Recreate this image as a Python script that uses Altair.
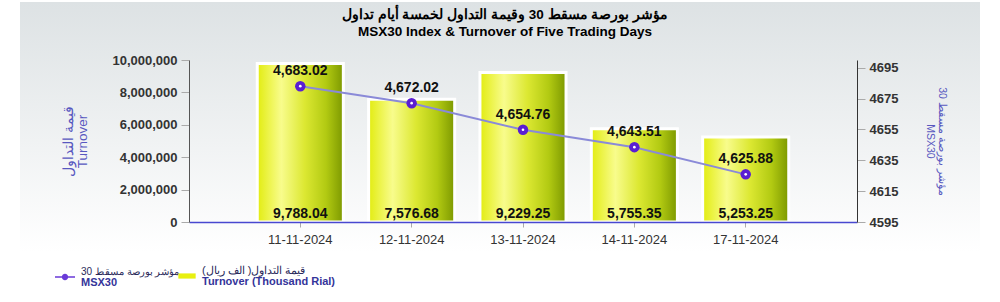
import altair as alt
import pandas as pd

# ---- data ----
dates = ["11-11-2024", "12-11-2024", "13-11-2024", "14-11-2024", "17-11-2024"]
turnover_k = [9788.04, 7576.68, 9229.25, 5755.35, 5253.25]  # thousand rial
msx30 = [4683.02, 4672.02, 4654.76, 4643.51, 4625.88]

left_ticks = [0, 2000000, 4000000, 6000000, 8000000, 10000000]
right_ticks = [4595, 4615, 4635, 4655, 4675, 4695]

title_ar = "مؤشر بورصة مسقط 30 وقيمة التداول لخمسة أيام تداول"
title_en = "MSX30 Index & Turnover of Five Trading Days"
left_title = ["قيمة التداول", "Turnover"]
right_title = ["مؤشر بورصة مسقط 30", "MSX30"]
leg_line_ar = "مؤشر بورصة مسقط 30"
leg_line_en = "MSX30"
leg_bar_ar = "قيمة التداول( الف ريال)"
leg_bar_en = "Turnover (Thousand Rial)"

df = pd.DataFrame({"date": dates, "turnover_k": turnover_k, "msx": msx30})

FONT = "Liberation Sans"

x_enc = alt.X(
    "date:N",
    sort=dates,
    scale=alt.Scale(paddingInner=0.227, paddingOuter=0.613),
    axis=alt.Axis(
        title=None, labelAngle=0, labelFont=FONT, labelFontSize=13,
        labelColor="#333333", labelPadding=6, domainColor="#4848d0",
        domainWidth=1.5, tickColor="#aaaaaa", tickSize=5, zindex=1,
    ),
)

base = alt.Chart(df).encode(x=x_enc)

# ---- background panel ----
bg_grad = alt.LinearGradient(
    gradient="linear", x1=0, x2=0, y1=0, y2=1,
    stops=[alt.GradientStop(offset=0, color="#dde2e4"),
           alt.GradientStop(offset=1, color="#ffffff")],
)
bg = alt.Chart(pd.DataFrame({"k": [0]})).mark_rect(color=bg_grad).encode(
    x=alt.value(-169), x2=alt.value(791), y=alt.value(-58), y2=alt.value(192)
)

# ---- bars (left axis) ----
bar_grad = alt.LinearGradient(
    gradient="linear", x1=0, x2=1, y1=0, y2=0,
    stops=[alt.GradientStop(offset=0, color="#e2ec10"),
           alt.GradientStop(offset=0.28, color="#f8fc8c"),
           alt.GradientStop(offset=0.55, color="#dce832"),
           alt.GradientStop(offset=0.8, color="#b2ca12"),
           alt.GradientStop(offset=1, color="#7c9800")],
)
lscale = alt.Scale(domain=[0, 10000000], nice=False)
left_axis = alt.Axis(
    orient="left", values=left_ticks, tickCount=20, format=",d", title=left_title,
    labelFont=FONT, labelFontSize=13, labelFontWeight="bold",
    labelColor="#333333", labelPadding=4, labelOverlap=False,
    tickColor="#aaaaaa", tickSize=8,
    domainColor="#555555", grid=False, titleFont=FONT, titleFontSize=13.5,
    titleLineHeight=14, titleFontWeight="normal", titleColor="#5858c0",
    titlePadding=22, zindex=1,
)
bars_base = base.transform_calculate(turnover="datum.turnover_k * 1000", zero="0")
bars = bars_base.mark_bar(color=bar_grad, stroke="white", strokeWidth=3).encode(
    y=alt.Y("turnover:Q", scale=lscale, axis=left_axis)
)
bar_labels = bars_base.mark_text(
    font=FONT, fontSize=14, fontWeight="bold", color="#111111", dy=-8
).encode(
    y=alt.Y("zero:Q", scale=lscale, axis=left_axis),
    text=alt.Text("turnover_k:Q", format=",.2f"),
)
bar_layer = alt.layer(bars, bar_labels)

# ---- line (right axis) ----
rscale = alt.Scale(domain=[4595, 4700], nice=False, zero=False)
right_axis = alt.Axis(
    orient="right", values=right_ticks, tickCount=20, format="d", title=right_title,
    labelFont=FONT, labelFontSize=13, labelFontWeight="bold",
    labelColor="#333333", labelPadding=4, labelOverlap=False,
    tickColor="#aaaaaa", tickSize=8,
    domainColor="#333333", grid=False, titleFont=FONT, titleFontSize=10.5,
    titleLineHeight=12, titleFontWeight="normal", titleColor="#5858c0",
    titlePadding=27, titleAngle=90, zindex=1,
)
y_right = alt.Y("msx:Q", scale=rscale, axis=right_axis)
line = base.mark_line(strokeWidth=2, color="#8a8ad8").encode(y=y_right)
pts = base.mark_point(filled=True, size=110, color="#5a1ed2", opacity=1).encode(y=y_right)
pts_dot = base.mark_point(filled=True, size=7, color="#ffffff", opacity=1).encode(y=y_right)
pt_labels = base.mark_text(
    font=FONT, fontSize=14, fontWeight="bold", color="#111111", dy=-15
).encode(
    y=y_right,
    text=alt.Text("msx:Q", format=",.2f"),
)
line_layer = alt.layer(line, pts, pts_dot, pt_labels)

# ---- legends (two stacked legends per series: english below, arabic above) ----
LINE_SYM = "M-1,-0.07H1V0.07H-1Z M-0.32,0A0.32,0.32 0 1,1 0.32,0A0.32,0.32 0 1,1 -0.32,0Z"
BAR_SYM = "M-1,-0.3H1V0.3H-1Z"


def legend_layer(label, color, sym, size, lx, ly, english, show_symbol, ar_size=10.5):
    d = pd.DataFrame({"s": [label]})
    return alt.Chart(d).mark_point(opacity=0, filled=True).encode(
        fill=alt.Fill(
            "s:N",
            scale=alt.Scale(domain=[label], range=[color]),
            legend=alt.Legend(
                orient="none", legendX=lx, legendY=ly, title=None,
                symbolType=sym, symbolSize=size,
                symbolOpacity=1 if show_symbol else 0, symbolStrokeWidth=0,
                labelFont=FONT,
                labelFontSize=11 if english else ar_size,
                labelFontWeight="bold" if english else "normal",
                labelColor="#34349a" if english else "#2a2a5a",
                labelBaseline="top" if english else "bottom",
                labelLimit=0, labelOffset=6,
            ),
        )
    )


leg1 = legend_layer(leg_line_en, "#6a3ad8", LINE_SYM, 400, -134, 207, True, True)
leg2 = legend_layer(leg_line_ar, "#6a3ad8", LINE_SYM, 400, -134, 207, False, False, 10)
leg3 = legend_layer(leg_bar_en, "#e8f010", BAR_SYM, 300, -11, 207, True, True)
leg4 = legend_layer(leg_bar_ar, "#e8f010", BAR_SYM, 300, -11, 207, False, False, 11)

chart = (
    alt.layer(bg, bar_layer, line_layer, leg1, leg2, leg3, leg4)
    .resolve_scale(y="independent", fill="independent")
    .properties(
        width=668, height=162,
        padding={"left": 189, "top": 60, "right": 143, "bottom": 80},
        autosize=alt.AutoSizeParams(type="none"),
        title=alt.TitleParams(
            text=[title_ar, title_en], anchor="middle", font=FONT,
            fontSize=13.5, fontWeight="bold", color="#000000",
            lineHeight=17, offset=-36, dx=-18,
        ),
    )
    .configure_view(stroke=None)
    .configure(background="white")
)

chart.save("out.html", embed_options={"renderer": "svg", "actions": False})
